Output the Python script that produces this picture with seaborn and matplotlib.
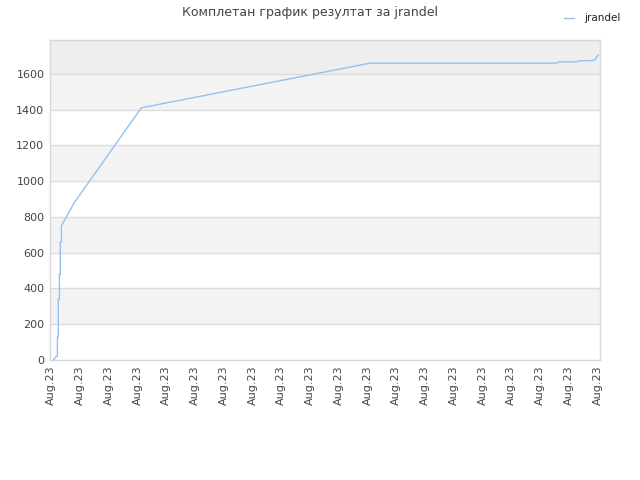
import numpy as np
import pandas as pd
import matplotlib
matplotlib.use('Agg')
import matplotlib.pyplot as plt
import seaborn as sns

# Datos (x en unidades de marca, 0..19)
player = 'jrandel'
x_vals = [0.07, 0.17, 0.21, 0.21, 0.24, 0.24, 0.28, 0.28, 0.31, 0.31, 0.35, 0.35,
          0.80, 3.13, 11.1, 17.6, 17.65, 18.3, 18.32, 18.89, 19.03]
scores = [0, 20, 20, 130, 130, 340, 340, 480, 480, 660, 660, 750,
          880, 1410, 1660, 1660, 1667, 1667, 1672, 1675, 1706]
tick_labels = ['Aug.23'] * 20
y_ticks = [0, 200, 400, 600, 800, 1000, 1200, 1400, 1600]

df = pd.DataFrame({'x': x_vals, 'score': scores, 'player': player})

sns.set_style('white')
plt.rcParams['font.family'] = ['DejaVu Sans']

fig = plt.figure(figsize=(6.4, 4.8), dpi=100)
ax = fig.add_axes([0.078, 0.25, 0.86, 0.667])

y_top = 1790
# Bandas alternas de fondo
for i, lo in enumerate(y_ticks):
    hi = lo + 200 if lo < 1600 else y_top
    if lo == 1600:
        ax.axhspan(lo, hi, color='#EEEEEE', zorder=0, lw=0)
    elif i % 2 == 1:
        ax.axhspan(lo, hi, color='#F3F3F3', zorder=0, lw=0)
for yt in y_ticks[1:]:
    ax.axhline(yt, color='#DDDDDD', lw=1, zorder=1)

sns.lineplot(data=df, x='x', y='score', hue='player', palette=['#92C1F2'],
             sort=False, estimator=None, lw=1, ax=ax, zorder=3)

ax.set_xlim(-0.05, 19.1)
ax.set_ylim(0, y_top)
ax.set_xticks(range(20))
ax.set_xticklabels(tick_labels, rotation=90, fontsize=8, color='#444444')
ax.set_yticks(y_ticks)
ax.set_yticklabels([str(v) for v in y_ticks], fontsize=8, color='#444444')
ax.tick_params(length=0, pad=4)
ax.set_xlabel('')
ax.set_ylabel('')
for s in ax.spines.values():
    s.set_color('#D8D8D8')
    s.set_linewidth(1)

handles, labels = ax.get_legend_handles_labels()
ax.get_legend().remove()
leg = fig.legend(handles, labels, loc='upper right', bbox_to_anchor=(0.985, 0.992),
                 frameon=False, fontsize=7.5, handlelength=1.0, handletextpad=1.0)
for t in leg.get_texts():
    t.set_color('#222222')

fig.text(0.485, 0.988, 'Комплетан график резултат за jrandel', ha='center', va='top',
         fontsize=9, color='#444444')

fig.savefig('out.png', dpi=100)
